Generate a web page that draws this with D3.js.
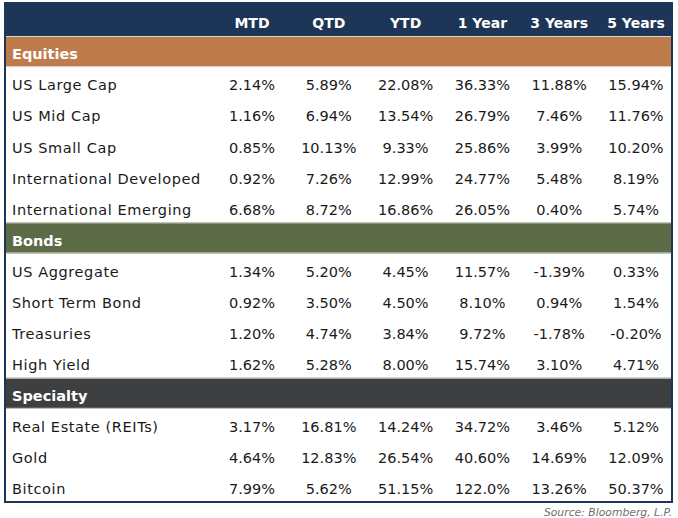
<!DOCTYPE html>
<html><head><meta charset="utf-8">
<script src="https://cdn.jsdelivr.net/npm/d3@7"></script>
<style>html,body{margin:0;padding:0;background:#fff;}</style>
</head><body>
<svg id="chart" width="678" height="518"></svg>
<script>
const columns = ["MTD","QTD","YTD","1 Year","3 Years","5 Years"];
const groups = ["Equities","Bonds","Specialty"];
const groupColors = ["#c07b4c","#5c6a45","#3e3f41"];
const assets = [
  ["US Large Cap","US Mid Cap","US Small Cap","International Developed","International Emerging"],
  ["US Aggregate","Short Term Bond","Treasuries","High Yield"],
  ["Real Estate (REITs)","Gold","Bitcoin"]
];
const mtd   = ["2.14%","1.16%","0.85%","0.92%","6.68%","1.34%","0.92%","1.20%","1.62%","3.17%","4.64%","7.99%"];
const qtd   = ["5.89%","6.94%","10.13%","7.26%","8.72%","5.20%","3.50%","4.74%","5.28%","16.81%","12.83%","5.62%"];
const ytd   = ["22.08%","13.54%","9.33%","12.99%","16.86%","4.45%","4.50%","3.84%","8.00%","14.24%","26.54%","51.15%"];
const y1    = ["36.33%","26.79%","25.86%","24.77%","26.05%","11.57%","8.10%","9.72%","15.74%","34.72%","40.60%","122.0%"];
const y3    = ["11.88%","7.46%","3.99%","5.48%","0.40%","-1.39%","0.94%","-1.78%","3.10%","3.46%","14.69%","13.26%"];
const y5    = ["15.94%","11.76%","10.20%","8.19%","5.74%","0.33%","1.54%","-0.20%","4.71%","5.12%","12.09%","50.37%"];
const series = [mtd,qtd,ytd,y1,y3,y5];
const source = "Source: Bloomberg, L.P.";

(function(){
const FONT = "'DejaVu Sans', 'Open Sans', sans-serif";
const svg = d3.select("#chart");

const rows = [];
let k = 0;
groups.forEach((g,gi)=>{
  rows.push({type:"group", label:g, color:groupColors[gi]});
  assets[gi].forEach(a=>{ rows.push({type:"data", label:a, vals:series.map(s=>s[k])}); k++; });
});

const L = 4, R = 673, T = 2, HB = 36, B = 502;
const y = d3.scaleBand().domain(d3.range(rows.length)).range([HB, B]).padding(0);
const x = d3.scalePoint().domain(columns).range([252, 636]);

svg.append("rect").attr("x",L).attr("y",T).attr("width",R-L).attr("height",HB-T).attr("fill","#1d3557");
svg.selectAll("text.hdr").data(columns).join("text").attr("class","hdr")
  .attr("x",d=>x(d)).attr("y",(T+HB)/2+8.5)
  .attr("text-anchor","middle").attr("fill","#fff")
  .style("font-family",FONT).style("font-size","14px").style("font-weight",700)
  .text(d=>d);

const g = svg.selectAll("g.row").data(rows).join("g").attr("class","row")
  .attr("transform",(d,i)=>`translate(0,${y(i)})`);
const gg = g.filter(d=>d.type==="group");
gg.append("rect")
  .attr("x",L).attr("y",0).attr("width",R-L).attr("height",y.bandwidth())
  .attr("fill",d=>d.color);
gg.append("line")
  .attr("x1",L).attr("x2",R).attr("y1",0.5).attr("y2",0.5).attr("stroke","#d8d8d0").attr("stroke-width",1);
gg.append("line")
  .attr("x1",L).attr("x2",R).attr("y1",y.bandwidth()-0.5).attr("y2",y.bandwidth()-0.5).attr("stroke","#d8d8d0").attr("stroke-width",1);
g.append("text")
  .attr("x",12).attr("y",y.bandwidth()/2+7.8)
  .attr("fill",d=>d.type==="group"?"#fff":"#1a1a1a")
  .style("font-family",FONT).style("font-size","14.5px")
  .style("letter-spacing",d=>d.type==="group"?"0px":"0.6px")
  .style("font-weight",d=>d.type==="group"?700:400)
  .text(d=>d.label);
g.filter(d=>d.type==="data").selectAll("text.val").data(d=>d.vals.map((v,i)=>({v,c:columns[i]})))
  .join("text").attr("class","val")
  .attr("x",d=>x(d.c)).attr("y",y.bandwidth()/2+7.8)
  .attr("text-anchor","middle").attr("fill","#1a1a1a")
  .style("font-family",FONT).style("font-size","14.5px")
  .text(d=>d.v);

svg.append("rect").attr("x",L+1).attr("y",T+1).attr("width",R-L-2).attr("height",B-T-1)
  .attr("fill","none").attr("stroke","#1d3557").attr("stroke-width",2);

svg.append("text").attr("x",672).attr("y",516).attr("text-anchor","end")
  .attr("fill","#6f6f6f").style("font-family",FONT).style("font-size","10.8px").style("font-style","italic")
  .text(source);
})();
</script>
</body></html>
